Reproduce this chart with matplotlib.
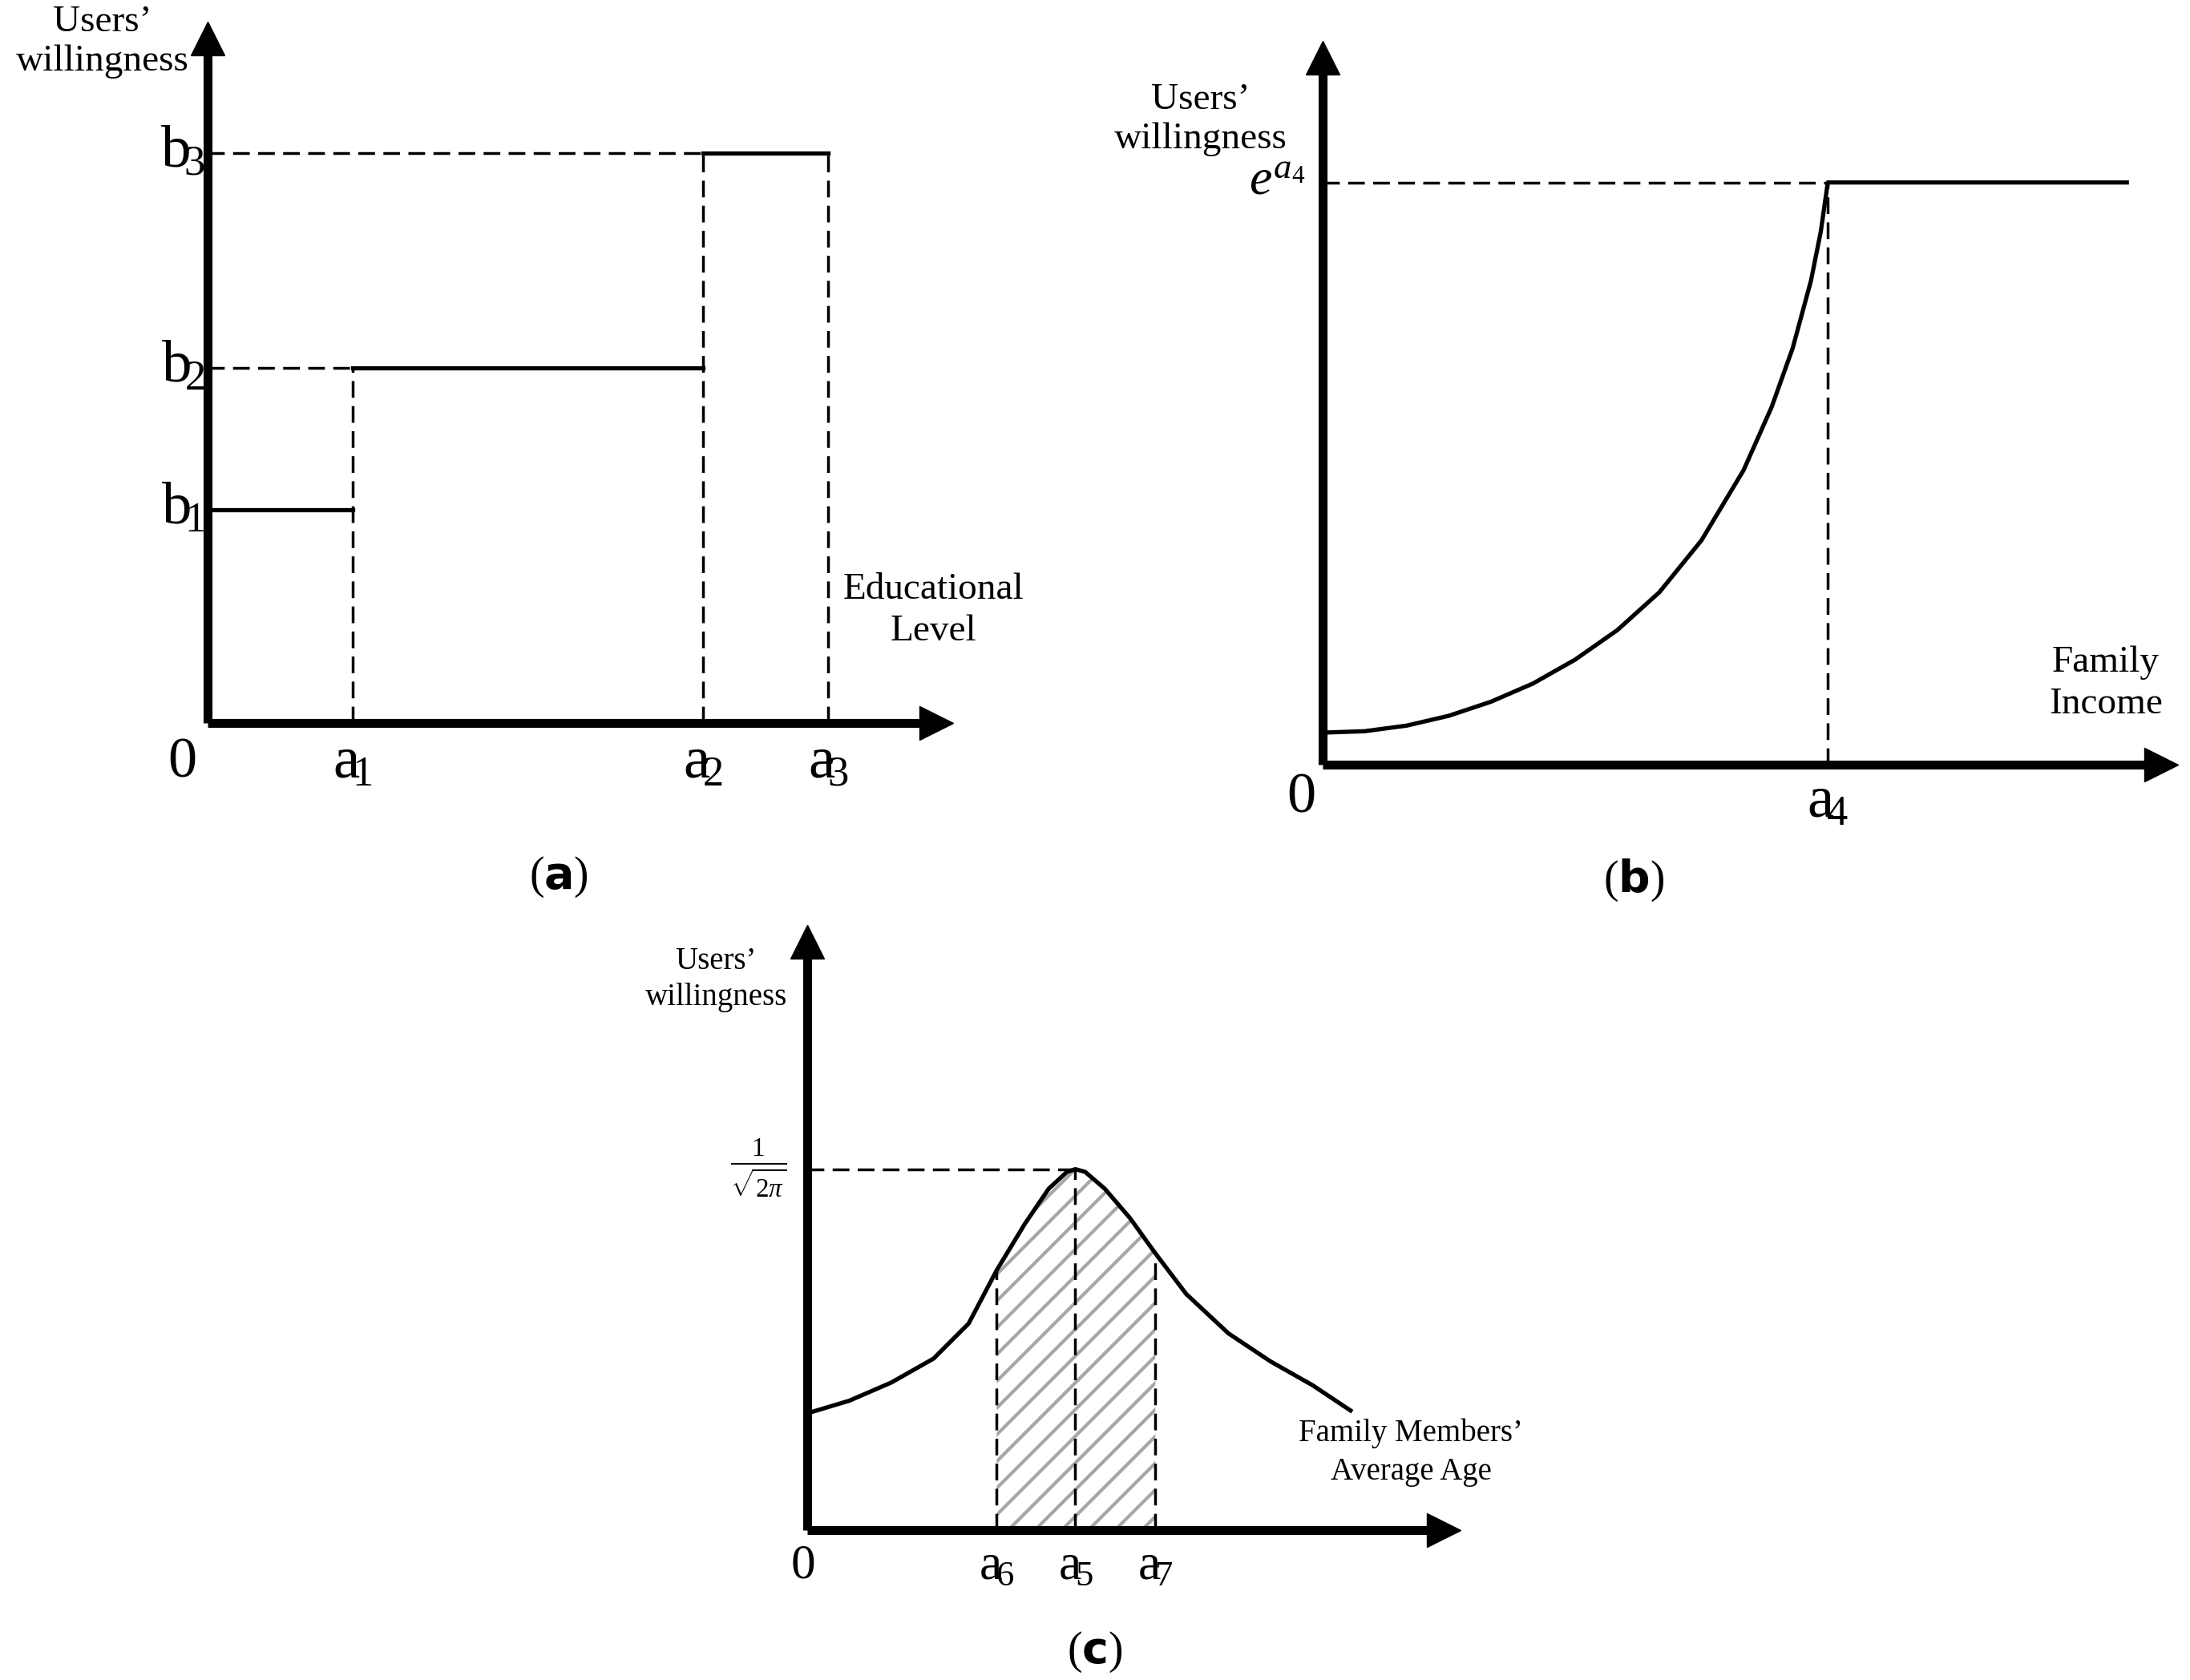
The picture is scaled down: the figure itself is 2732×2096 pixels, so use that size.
import matplotlib.pyplot as plt

plt.rcParams['font.family'] = ['Liberation Serif', 'DejaVu Serif']
plt.rcParams['mathtext.fontset'] = 'custom'
plt.rcParams['mathtext.rm'] = 'Liberation Serif'
plt.rcParams['mathtext.it'] = 'Liberation Serif:italic'
plt.rcParams['hatch.linewidth'] = 3

W, H = 1560.0, 1197.0  # layout grid of the reference

# panel (a): step function
a_x = [0, 103, 103, 353, 353, 442]
a_y = [152, 152, 253, 253, 406, 406]
a_ticks_x = {'1': 103, '2': 353, '3': 442}
a_ticks_y = {'1': 152, '2': 253, '3': 406}

# panel (b): exponential then flat
b_x = [0, 30, 60, 90, 120, 150, 180, 210, 240, 270, 300, 320, 335, 348, 355, 360, 573]
b_y = [23, 24, 28, 35, 45, 58, 75, 96, 123, 160, 210, 255, 297, 345, 380, 415, 415]
b_a4, b_top = 360, 415

# panel (c): bell-like curve with shaded band
c_x = [0, 30, 60, 90, 115, 135, 155, 172, 185, 191, 198, 212, 230, 248, 270, 300, 330, 360, 387]
c_y = [83, 92, 105, 122, 147, 185, 218, 243, 255, 257, 255, 243, 222, 197, 168, 140, 120, 103, 85]
c_a6, c_a5, c_a7, c_peak = 135, 191, 248, 257

fig = plt.figure(figsize=(27.32, 20.96), dpi=100)

AX_LW, CURVE_LW, DASH_LW = 8, 3.8, 2.5


def make_axes(x0, y0, x1, y1, xmax, ymax):
    # x0,y0 = origin in px, x1 = x arrow tip, y1 = y arrow tip
    ax = fig.add_axes([x0 / W, 1 - y0 / H, (x1 - x0) / W, (y0 - y1) / H])
    ax.set_xlim(0, xmax)
    ax.set_ylim(0, ymax)
    ax.axis('off')
    ax.plot([0, xmax * 0.97], [0, 0], 'k-', lw=AX_LW, clip_on=False, solid_capstyle='butt')
    ax.plot([0, 0], [0, ymax * 0.97], 'k-', lw=AX_LW, clip_on=False, solid_capstyle='butt')
    ax.plot([xmax * 0.975], [0], 'k>', ms=30, clip_on=False)
    ax.plot([0], [ymax * 0.975], 'k^', ms=30, clip_on=False)
    return ax


def dash(ax, xs, ys):
    ax.plot(xs, ys, 'k', ls=(0, (6, 3)), lw=DASH_LW, clip_on=False)


def sub(letter, digit):
    return r'$\mathrm{' + letter + r'}\!\mathrm{_{' + digit + r'}}$'


# ---- (a)
ax = make_axes(148, 515, 680, 15, 532, 500)
for i in range(0, len(a_x), 2):
    ax.plot(a_x[i:i + 2], a_y[i:i + 2], 'k-', lw=CURVE_LW)
dash(ax, [0, a_x[1]], [a_y[2]] * 2)
dash(ax, [0, a_x[3]], [a_y[4]] * 2)
dash(ax, [a_x[1]] * 2, [0, a_y[2]])
dash(ax, [a_x[3]] * 2, [0, a_y[4]])
dash(ax, [a_x[5]] * 2, [0, a_y[5]])
for k, v in a_ticks_x.items():
    ax.text(v, -10, sub('a', k), ha='center', va='top', fontsize=54)
for k, v in a_ticks_y.items():
    ax.text(-2, v, sub('b', k), ha='right', va='center', fontsize=54)
ax.text(-8, -10, '0', ha='right', va='top', fontsize=52)
ax.text(-75, 485, "Users\u2019\nwillingness", ha='center', va='center', fontsize=34, linespacing=1.2)
ax.text(517, 80, 'Educational\nLevel', ha='center', va='center', fontsize=34, linespacing=1.3)
ax.text(250, -110, r'($\mathbf{a}$)', ha='center', va='center', fontsize=40)

# ---- (b)
ax = make_axes(942, 545, 1555, 28, 613, 517)
ax.plot(b_x, b_y, 'k-', lw=CURVE_LW)
dash(ax, [0, b_a4], [b_top] * 2)
dash(ax, [b_a4] * 2, [0, b_top])
ax.text(b_a4, -8, sub('a', '4'), ha='center', va='top', fontsize=54)
ax.text(-5, -5, '0', ha='right', va='top', fontsize=52)
ax.text(-12, b_top, r'$e^{a_4}$', ha='right', va='center', fontsize=46)
ax.text(-87, 460, "Users\u2019\nwillingness", ha='center', va='center', fontsize=34, linespacing=1.2)
ax.text(558, 58, 'Family\nIncome', ha='center', va='center', fontsize=34, linespacing=1.3)
ax.text(222, -82, r'($\mathbf{b}$)', ha='center', va='center', fontsize=40)

# ---- (c)
ax = make_axes(575, 1090, 1040, 660, 465, 430)
fx = [x for x in c_x if c_a6 <= x <= c_a7]
fy = [y for x, y in zip(c_x, c_y) if c_a6 <= x <= c_a7]
ax.fill_between(fx, 0, fy, facecolor='white', edgecolor='#a6a6a6', hatch='/', lw=0)
ax.plot(c_x, c_y, 'k-', lw=CURVE_LW)
dash(ax, [0, c_a5], [c_peak] * 2)
for v, k in [(c_a6, '6'), (c_a5, '5'), (c_a7, '7')]:
    dash(ax, [v] * 2, [0, c_y[c_x.index(v)]])
    ax.text(v, -10, sub('a', k), ha='center', va='top', fontsize=46)
ax.text(-3, -10, '0', ha='center', va='top', fontsize=44)
ax.text(-35, c_peak, r'$\frac{1}{\sqrt{2\pi}}$', ha='center', va='center', fontsize=34)
ax.text(-65, 392, "Users\u2019\nwillingness", ha='center', va='center', fontsize=28, linespacing=1.3)
ax.text(430, 55, "Family Members\u2019\nAverage Age", ha='center', va='center', fontsize=28, linespacing=1.4)
ax.text(205, -87, r'($\mathbf{c}$)', ha='center', va='center', fontsize=40)

fig.savefig('out.png', dpi=100)
